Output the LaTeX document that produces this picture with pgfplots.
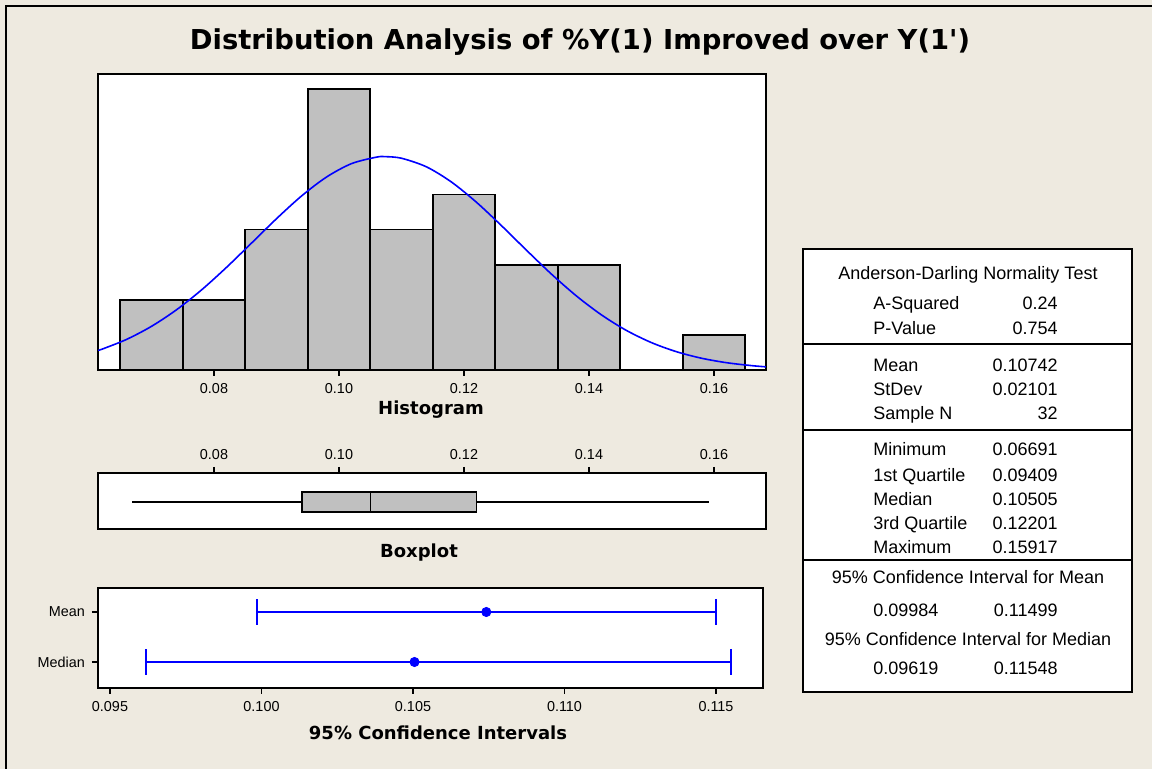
\documentclass[border=0pt]{standalone}
\usepackage{fontspec}
\setmainfont{Liberation Sans}
\newfontfamily\vfont{DejaVu Sans}
\usepackage{pgfplots}
\pgfplotsset{compat=1.18}
\usepgfplotslibrary{statistics}
\definecolor{bg}{RGB}{238,234,224}
\definecolor{bargray}{RGB}{192,192,192}
\definecolor{ciblue}{RGB}{0,0,255}

\begin{document}
\begin{tikzpicture}
\path[use as bounding box] (0,0) rectangle (576pt,-384.5pt);
\fill[bg] (0,0) rectangle (576pt,-384.5pt);
\draw[line width=1pt] (3pt,-384.5pt) -- (3pt,-3pt) -- (576pt,-3pt);

\pgfplotsset{minitab/.style={
  scale only axis,
  axis line style={line width=0.9pt},
  tick style={line width=0.9pt, black},
  tick align=outside,
  major tick length=3pt,
  tick label style={font=\fontsize{7.2}{8}\selectfont},
  /pgf/number format/assume math mode=true,
  axis background/.style={fill=white},
}}

% histogram
\begin{axis}[minitab,
  at={(49pt,-185pt)}, anchor=south west,
  width=334pt, height=148pt,
  xmin=0.06144, xmax=0.16832, ymin=0, ymax=8.43,
  ytick=\empty, xtick={0.08,0.10,0.12,0.14,0.16},
  xtick pos=bottom,
  xticklabel style={/pgf/number format/.cd, fixed, fixed zerofill, precision=2},
]
\addplot[ybar interval, fill=bargray, draw=black, line width=0.9pt] coordinates {
  (0.065,2) (0.075,2) (0.085,4) (0.095,8) (0.105,4) (0.115,5)
  (0.125,3) (0.135,3) (0.145,0) (0.155,1) (0.165,1)
};
\addplot[ciblue, line width=0.8pt, smooth] coordinates {
  (0.0614,0.5600) (0.062,0.5873) (0.066,0.8703) (0.070,1.2437) (0.074,1.7145)
  (0.078,2.2795) (0.082,2.9225) (0.086,3.6135) (0.090,4.3086)
  (0.094,4.9547) (0.098,5.4950) (0.102,5.8771) (0.106,6.0621)
  (0.10742,6.0760) (0.110,6.0304) (0.114,5.7852) (0.118,5.3524)
  (0.122,4.7758) (0.126,4.1097) (0.130,3.4105) (0.134,2.7292)
  (0.138,2.1067) (0.142,1.5682) (0.146,1.1256) (0.150,0.7793)
  (0.154,0.5203) (0.158,0.3350) (0.162,0.2080) (0.166,0.1246)
  (0.1683,0.0900)
};
\end{axis}

% boxplot
\begin{axis}[minitab,
  at={(49pt,-264.5pt)}, anchor=south west,
  width=334pt, height=28pt,
  xmin=0.06144, xmax=0.16832, ymin=0, ymax=1,
  ytick=\empty, xtick={0.08,0.10,0.12,0.14,0.16},
  xtick pos=top,
  boxplot/draw direction=x,
  xticklabel style={/pgf/number format/.cd, fixed, fixed zerofill, precision=2},
]
\addplot[fill=bargray, draw=black, line width=0.9pt,
  boxplot prepared={draw position=0.48, box extend=0.36,
    lower whisker=0.06691, lower quartile=0.09409, median=0.10505,
    upper quartile=0.12201, upper whisker=0.15917, whisker extend=0}]
  coordinates {};
\end{axis}

% confidence intervals
\begin{axis}[minitab,
  at={(49pt,-344pt)}, anchor=south west,
  width=332.5pt, height=50pt,
  xmin=0.094604, xmax=0.116551, ymin=0.48, ymax=2.48,
  ytick={1,2}, yticklabels={Median,Mean},
  xtick={0.095,0.100,0.105,0.110,0.115},
  xtick pos=bottom, ytick pos=left,
  xticklabel style={/pgf/number format/.cd, fixed, fixed zerofill, precision=3},
]
\addplot[ciblue, only marks, mark=*, mark size=2.3pt,
  error bars/.cd, x dir=both, x explicit, error mark=|,
  error bar style={line width=0.8pt, ciblue},
  error mark options={mark size=6.5pt, line width=1pt, ciblue}]
  coordinates {
  (0.10742,2) -= (0.00758,0) += (0.00757,0)
  (0.10505,1) -= (0.00886,0) += (0.01043,0)
};
\end{axis}

\begin{scope}[x=0.5pt,y=-0.5pt]
\node[font=\vfont\bfseries\fontsize{13.7}{15}\selectfont] at (580,42)
  {Distribution Analysis of \%Y(1) Improved over Y(1\textquotesingle)};
\node[font=\vfont\bfseries\fontsize{9}{10}\selectfont] at (431,410) {Histogram};
\node[font=\vfont\bfseries\fontsize{9}{10}\selectfont] at (419,553) {Boxplot};
\node[font=\vfont\bfseries\fontsize{9}{10}\selectfont] at (438,733) {95\% Confidence Intervals};

\draw[fill=white, line width=0.9pt] (803,249) rectangle (1132,692);
\draw[line width=0.9pt] (803,344) -- (1132,344);
\draw[line width=0.9pt] (803,430) -- (1132,430);
\draw[line width=0.9pt] (803,560) -- (1132,560);

\begin{scope}[every node/.style={font=\fontsize{9}{10}\selectfont, inner sep=0pt,
    text height=6.4pt, text depth=0pt}]
\node at (968,273) {Anderson-Darling Normality Test};
\node[anchor=west] at (873,303) {A-Squared};  \node[anchor=east] at (1058,303) {0.24};
\node[anchor=west] at (873,328) {P-Value};    \node[anchor=east] at (1058,328) {0.754};
\node[anchor=west] at (873,365) {Mean};       \node[anchor=east] at (1058,365) {0.10742};
\node[anchor=west] at (873,389) {StDev};      \node[anchor=east] at (1058,389) {0.02101};
\node[anchor=west] at (873,413) {Sample N};   \node[anchor=east] at (1058,413) {32};
\node[anchor=west] at (873,449) {Minimum};    \node[anchor=east] at (1058,449) {0.06691};
\node[anchor=west] at (873,475) {1st Quartile}; \node[anchor=east] at (1058,475) {0.09409};
\node[anchor=west] at (873,499) {Median};     \node[anchor=east] at (1058,499) {0.10505};
\node[anchor=west] at (873,523) {3rd Quartile}; \node[anchor=east] at (1058,523) {0.12201};
\node[anchor=west] at (873,547) {Maximum};    \node[anchor=east] at (1058,547) {0.15917};
\node at (968,577) {95\% Confidence Interval for Mean};
\node[anchor=west] at (873,610) {0.09984};    \node[anchor=east] at (1058,610) {0.11499};
\node at (968,639) {95\% Confidence Interval for Median};
\node[anchor=west] at (873,668) {0.09619};    \node[anchor=east] at (1058,668) {0.11548};
\end{scope}
\end{scope}
\end{tikzpicture}
\end{document}
